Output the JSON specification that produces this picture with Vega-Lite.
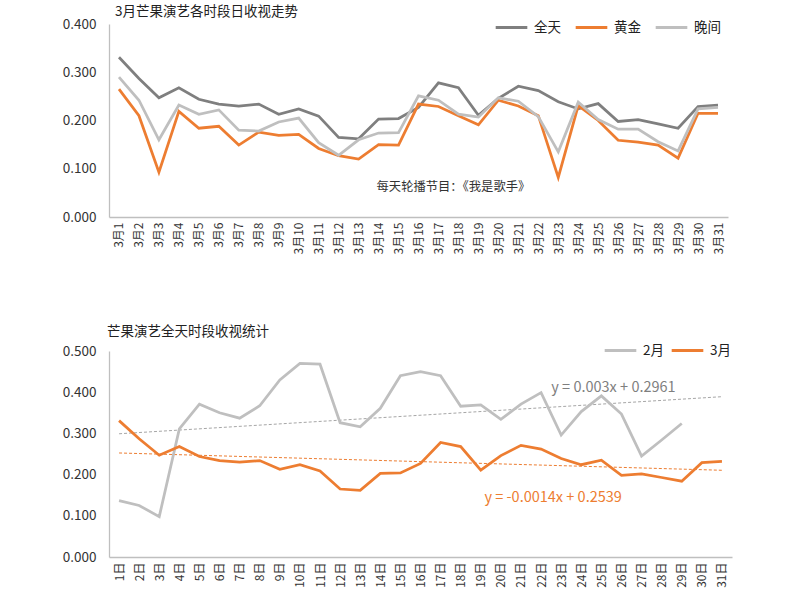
{
  "$schema": "https://vega.github.io/schema/vega-lite/v6.json",
  "padding": {"left": 53, "top": 4, "right": 5, "bottom": 5},
  "config": {
    "view": {"stroke": null},
    "font": "Noto Sans CJK SC",
    "axis": {"domainColor": "#bfbfbf", "domainWidth": 1.3, "ticks": false, "grid": false, "labelColor": "#333333", "title": null},
    "legend": {"symbolType": "stroke", "symbolSize": 1000, "symbolStrokeWidth": 3, "labelFontSize": 13.5, "labelColor": "#222222", "direction": "horizontal", "columnPadding": 8, "labelOffset": 5, "title": null},
    "title": {"anchor": "start", "frame": "group", "fontSize": 13.5, "fontWeight": "normal", "color": "#222222", "font": "Noto Sans CJK SC"}
  },
  "datasets": {
    "daily": [
      {"d": "3月1", "全天": 0.331, "黄金": 0.265, "晚间": 0.290},
      {"d": "3月2", "全天": 0.287, "黄金": 0.210, "晚间": 0.242},
      {"d": "3月3", "全天": 0.247, "黄金": 0.093, "晚间": 0.160},
      {"d": "3月4", "全天": 0.268, "黄金": 0.219, "晚间": 0.232},
      {"d": "3月5", "全天": 0.244, "黄金": 0.184, "晚间": 0.213},
      {"d": "3月6", "全天": 0.234, "黄金": 0.188, "晚间": 0.222},
      {"d": "3月7", "全天": 0.230, "黄金": 0.149, "晚间": 0.180},
      {"d": "3月8", "全天": 0.234, "黄金": 0.176, "晚间": 0.178},
      {"d": "3月9", "全天": 0.213, "黄金": 0.169, "晚间": 0.197},
      {"d": "3月10", "全天": 0.224, "黄金": 0.171, "晚间": 0.205},
      {"d": "3月11", "全天": 0.209, "黄金": 0.142, "晚间": 0.154},
      {"d": "3月12", "全天": 0.165, "黄金": 0.127, "晚间": 0.128},
      {"d": "3月13", "全天": 0.162, "黄金": 0.120, "晚间": 0.160},
      {"d": "3月14", "全天": 0.203, "黄金": 0.150, "晚间": 0.174},
      {"d": "3月15", "全天": 0.204, "黄金": 0.149, "晚间": 0.175},
      {"d": "3月16", "全天": 0.227, "黄金": 0.234, "晚间": 0.251},
      {"d": "3月17", "全天": 0.278, "黄金": 0.229, "晚间": 0.242},
      {"d": "3月18", "全天": 0.268, "黄金": 0.210, "晚间": 0.213},
      {"d": "3月19", "全天": 0.211, "黄金": 0.191, "晚间": 0.207},
      {"d": "3月20", "全天": 0.246, "黄金": 0.242, "晚间": 0.247},
      {"d": "3月21", "全天": 0.271, "黄金": 0.230, "晚间": 0.240},
      {"d": "3月22", "全天": 0.262, "黄金": 0.210, "晚间": 0.208},
      {"d": "3月23", "全天": 0.239, "黄金": 0.082, "晚间": 0.135},
      {"d": "3月24", "全天": 0.224, "黄金": 0.231, "晚间": 0.238},
      {"d": "3月25", "全天": 0.235, "黄金": 0.200, "晚间": 0.202},
      {"d": "3月26", "全天": 0.198, "黄金": 0.159, "晚间": 0.182},
      {"d": "3月27", "全天": 0.202, "黄金": 0.155, "晚间": 0.182},
      {"d": "3月28", "全天": 0.193, "黄金": 0.149, "晚间": 0.156},
      {"d": "3月29", "全天": 0.184, "黄金": 0.122, "晚间": 0.137},
      {"d": "3月30", "全天": 0.229, "黄金": 0.215, "晚间": 0.224},
      {"d": "3月31", "全天": 0.232, "黄金": 0.215, "晚间": 0.227}
    ],
    "monthly": [
      {"day": "1日", "2月": 0.137, "3月": 0.331},
      {"day": "2日", "2月": 0.125, "3月": 0.287},
      {"day": "3日", "2月": 0.098, "3月": 0.247},
      {"day": "4日", "2月": 0.311, "3月": 0.268},
      {"day": "5日", "2月": 0.371, "3月": 0.244},
      {"day": "6日", "2月": 0.350, "3月": 0.234},
      {"day": "7日", "2月": 0.337, "3月": 0.230},
      {"day": "8日", "2月": 0.367, "3月": 0.234},
      {"day": "9日", "2月": 0.430, "3月": 0.213},
      {"day": "10日", "2月": 0.470, "3月": 0.224},
      {"day": "11日", "2月": 0.468, "3月": 0.209},
      {"day": "12日", "2月": 0.326, "3月": 0.165},
      {"day": "13日", "2月": 0.316, "3月": 0.162},
      {"day": "14日", "2月": 0.361, "3月": 0.203},
      {"day": "15日", "2月": 0.440, "3月": 0.204},
      {"day": "16日", "2月": 0.450, "3月": 0.227},
      {"day": "17日", "2月": 0.440, "3月": 0.278},
      {"day": "18日", "2月": 0.366, "3月": 0.268},
      {"day": "19日", "2月": 0.369, "3月": 0.211},
      {"day": "20日", "2月": 0.334, "3月": 0.246},
      {"day": "21日", "2月": 0.371, "3月": 0.271},
      {"day": "22日", "2月": 0.399, "3月": 0.262},
      {"day": "23日", "2月": 0.296, "3月": 0.239},
      {"day": "24日", "2月": 0.353, "3月": 0.224},
      {"day": "25日", "2月": 0.391, "3月": 0.235},
      {"day": "26日", "2月": 0.347, "3月": 0.198},
      {"day": "27日", "2月": 0.245, "3月": 0.202},
      {"day": "28日", "2月": 0.284, "3月": 0.193},
      {"day": "29日", "2月": 0.324, "3月": 0.184},
      {"day": "30日", "3月": 0.229},
      {"day": "31日", "3月": 0.232}
    ],
    "trend": [
      {"day": "1日", "series": "2月", "v": 0.2991},
      {"day": "31日", "series": "2月", "v": 0.3891},
      {"day": "1日", "series": "3月", "v": 0.2525},
      {"day": "31日", "series": "3月", "v": 0.2105}
    ],
    "trendLabels": [
      {"day": "26日", "series": "2月", "v": 0.41, "label": "y = 0.003x + 0.2961"},
      {"day": "23日", "series": "3月", "v": 0.143, "label": "y = -0.0014x + 0.2539"}
    ]
  },
  "vconcat": [
    {
      "title": {"text": "3月芒果演艺各时段日收视走势", "offset": -1, "dx": 6},
      "width": 619,
      "height": 193,
      "layer": [
        {
          "data": {"name": "daily"},
          "transform": [{"fold": ["全天", "黄金", "晚间"], "as": ["series", "value"]}],
          "mark": {"type": "line", "strokeWidth": 2.75},
          "encoding": {
            "x": {"field": "d", "type": "ordinal", "sort": null,
                  "axis": {"labelAngle": -90, "labelFontSize": 12, "labelPadding": 5}},
            "y": {"field": "value", "type": "quantitative",
                  "scale": {"domain": [0, 0.4], "nice": false},
                  "axis": {"values": [0, 0.1, 0.2, 0.3, 0.4], "format": ".3f", "labelFontSize": 13.5, "labelPadding": 13, "minExtent": 56}},
            "color": {"field": "series", "type": "nominal",
                      "scale": {"domain": ["全天", "黄金", "晚间"], "range": ["#7f7f7f", "#ed7d31", "#bfbfbf"]},
                      "legend": {"orient": "none", "legendX": 385, "legendY": -14}}
          }
        },
        {
          "data": {"values": [{"d": "3月14", "v": 0.063, "note": "每天轮播节目：《我是歌手》"}]},
          "mark": {"type": "text", "align": "left", "baseline": "middle", "fontSize": 12.3, "dx": -2, "color": "#333333"},
          "encoding": {
            "x": {"field": "d", "type": "ordinal", "sort": null},
            "y": {"field": "v", "type": "quantitative"},
            "text": {"field": "note"}
          }
        }
      ]
    },
    {
      "title": {"text": "芒果演艺全天时段收视统计", "offset": -5, "dx": -2},
      "width": 623,
      "height": 206,
      "encoding": {
        "x": {"field": "day", "type": "ordinal",
              "scale": {"domain": ["1日", "2日", "3日", "4日", "5日", "6日", "7日", "8日", "9日", "10日", "11日", "12日", "13日", "14日", "15日", "16日", "17日", "18日", "19日", "20日", "21日", "22日", "23日", "24日", "25日", "26日", "27日", "28日", "29日", "30日", "31日"]},
              "axis": {"labelAngle": -90, "labelFontSize": 12, "labelPadding": 5}}
      },
      "layer": [
        {
          "data": {"name": "trend"},
          "transform": [{"filter": "datum.series === '2月'"}],
          "mark": {"type": "line", "strokeWidth": 1, "strokeDash": [3, 2], "color": "#a6a6a6"},
          "encoding": {
            "y": {"field": "v", "type": "quantitative"}
          }
        },
        {
          "data": {"name": "trend"},
          "transform": [{"filter": "datum.series === '3月'"}],
          "mark": {"type": "line", "strokeWidth": 1, "strokeDash": [3, 2], "color": "#ed7d31"},
          "encoding": {
            "y": {"field": "v", "type": "quantitative"}
          }
        },
        {
          "data": {"name": "monthly"},
          "transform": [
            {"fold": ["2月", "3月"], "as": ["series", "value"]},
            {"filter": "isValid(datum.value)"}
          ],
          "mark": {"type": "line", "strokeWidth": 2.75},
          "encoding": {
            "y": {"field": "value", "type": "quantitative",
                  "scale": {"domain": [0, 0.5], "nice": false},
                  "axis": {"values": [0, 0.1, 0.2, 0.3, 0.4, 0.5], "format": ".3f", "labelFontSize": 13.5, "labelPadding": 13}},
            "color": {"field": "series", "type": "nominal",
                      "scale": {"domain": ["2月", "3月"], "range": ["#bfbfbf", "#ed7d31"]},
                      "legend": {"orient": "none", "legendX": 494, "legendY": -18, "columnPadding": 1}}
          }
        },
        {
          "data": {"name": "trendLabels"},
          "mark": {"type": "text", "align": "center", "baseline": "middle", "fontSize": 14.5, "dx": -8},
          "encoding": {
            "y": {"field": "v", "type": "quantitative"},
            "text": {"field": "label"},
            "color": {"field": "series", "type": "nominal",
                      "scale": {"domain": ["2月", "3月"], "range": ["#7f7f7f", "#ed7d31"]},
                      "legend": null}
          }
        }
      ],
      "resolve": {"scale": {"color": "independent"}}
    }
  ],
  "spacing": 70
}
